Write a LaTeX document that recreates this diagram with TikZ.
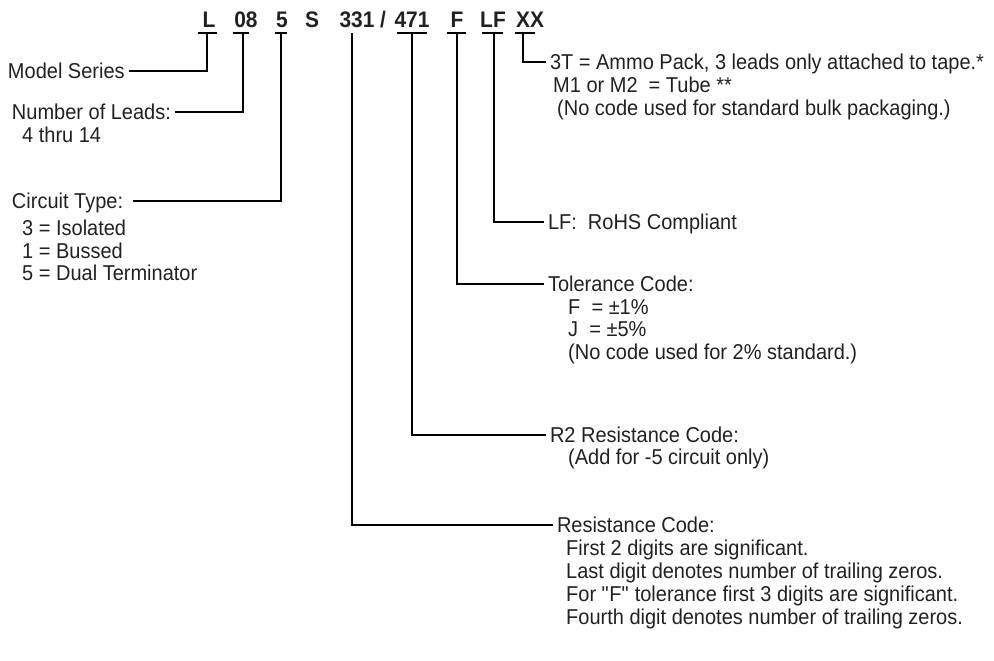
\documentclass[tikz,border=0pt]{standalone}
\usepackage{fontspec}
\setmainfont{Liberation Sans}[FakeStretch=0.93]
\usepackage{tikz}
\usetikzlibrary{positioning}
\definecolor{txtclr}{rgb}{0.13, 0.13, 0.13}
\tikzset{ %
  ,every node/.style={font=\fontsize{21.5}{24}\selectfont, text=txtclr}
  ,code/.style={inner sep=0, text height=16pt, text depth=0pt, font=\fontsize{22.5}{24}\selectfont\bfseries}
  ,head/.style={inner sep=0, outer xsep=4pt, anchor=west, text height=15.4pt, text depth=0pt}
  ,sub/.style={inner sep=0, anchor=west, text height=15.4pt, text depth=0pt}
  ,lead/.style={draw=black, line width=1.1pt}
}
\begin{document}
\begin{tikzpicture}[x=1pt, y=-1pt]
  \useasboundingbox (0,0) rectangle (994,661);
  % part number
  \draw
  node[code] (cL) at (209,20) {L}
  node[code] (c08) at (246,20) {08}
  node[code] (c5) at (282,20) {5}
  node[code] (cS) at (312,20) {S}
  node[code] (c331) at (357,20) {331}
  node[code] (cslash) at (383,20) {/}
  node[code] (c471) at (412,20) {471}
  node[code] (cF) at (457,20) {F}
  node[code] (cLF) at (493,20) {LF}
  node[code] (cXX) at (530,20) {XX};
  \foreach \a/\b in {198/217, 233/249, 275/287, 397/427, 447/466, 482/503, 515/535}
    \draw[lead] (\a,33) -- (\b,33);
  \coordinate (uL) at (207,33);
  \coordinate (u08) at (243,33);
  \coordinate (u5) at (281,33);
  \coordinate (u331) at (352,33);
  \coordinate (u471) at (412,33);
  \coordinate (uF) at (457,33);
  \coordinate (uLF) at (494,33);
  \coordinate (uXX) at (523,33);
  % left side
  \node[head] (model) at (4,71) {Model Series};
  \node[head] (leads) at (8,112) {Number of Leads:};
  \node[sub] at (22,135) {4 thru 14};
  \node[head] (circuit) at (8,201) {Circuit Type:\ \ };
  \node[sub] at (22,228) {3 = Isolated};
  \node[sub] at (22,251) {1 = Bussed};
  \node[sub] at (22,273) {5 = Dual Terminator};
  % right side
  \node[head] (pack) at (546,62) {3T = Ammo Pack, 3 leads only attached to tape.*};
  \node[sub] at (553,85) {M1 or M2\ \ = Tube **};
  \node[sub] at (557,108) {(No code used for standard bulk packaging.)};
  \node[head] (rohs) at (544,222) {LF:\ \ RoHS Compliant};
  \node[head] (tol) at (544,284) {Tolerance Code:};
  \node[sub] at (568,307) {F\ \ = ±1\%};
  \node[sub] at (568,329) {J\ \ = ±5\%};
  \node[sub] at (568,352) {(No code used for 2\% standard.)};
  \node[head] (rtwo) at (546,435) {R2 Resistance Code:};
  \node[sub] at (568,457) {(Add for -5 circuit only)};
  \node[head] (res) at (553,525) {Resistance Code:};
  \node[sub] at (566,548) {First 2 digits are significant.};
  \node[sub] at (566,571) {Last digit denotes number of trailing zeros.};
  \node[sub] at (566,594) {For \textquotedbl F\textquotedbl\ tolerance first 3 digits are significant.};
  \node[sub] at (566,617) {Fourth digit denotes number of trailing zeros.};
  % leads
  \draw[lead] (uL) |- (model);
  \draw[lead] (u08) |- (leads);
  \draw[lead] (u5) |- (circuit);
  \draw[lead] (uXX) |- (pack);
  \draw[lead] (uLF) |- (rohs);
  \draw[lead] (uF) |- (tol);
  \draw[lead] (u471) |- (rtwo);
  \draw[lead] (u331) |- (res);
\end{tikzpicture}
\end{document}
